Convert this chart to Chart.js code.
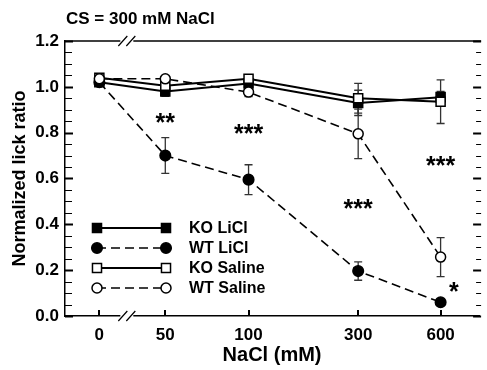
<!DOCTYPE html>
<html>
<head>
<meta charset="utf-8">
<script src="https://cdn.jsdelivr.net/npm/chart.js@4/dist/chart.umd.min.js"></script>
<style>
  html, body { margin: 0; padding: 0; background: #fff; }
  #wrap { width: 487px; height: 370px; }
</style>
</head>
<body>
<div id="wrap"><canvas id="c" width="487" height="370"></canvas></div>
<script>
// categories (NaCl, mM) and the uneven spacing the original axis uses
const concentrations = [ '0', '50', '100', '300', '600' ];
const xSlots         = [ 0, 0.8, 1.81, 3.14, 4.14 ];

// normalized lick ratio, mean and SEM
const koLiCl       = [ 1.02, 0.98, 1.015, 0.93, 0.955 ];
const koLiClErr    = [ 0.01, 0.022, 0.01, 0.055, 0.025 ];
const wtLiCl       = [ 1.02, 0.70, 0.595, 0.196, 0.06 ];
const wtLiClErr    = [ 0.01, 0.078, 0.065, 0.04, 0.01 ];
const koSaline     = [ 1.04, 1.005, 1.035, 0.95, 0.935 ];
const koSalineErr  = [ 0.01, 0.01, 0.01, 0.065, 0.095 ];
const wtSaline     = [ 1.035, 1.035, 0.977, 0.795, 0.257 ];
const wtSalineErr  = [ 0.01, 0.01, 0.02, 0.108, 0.085 ];

const yTicks = [ 0, 0.2, 0.4, 0.6, 0.8, 1.0, 1.2 ];

// significance marks (text, x slot, y value)
const starText = [ '**', '***', '***', '***', '*' ];
const starX    = [ 0.8, 1.81, 3.14, 4.14, 4.3 ];
const starY    = [ 0.86, 0.81, 0.485, 0.67, 0.12 ];

const FONT = 'Arial, "Liberation Sans", Helvetica, sans-serif';
const DASH = [ 9, 5 ];

function series( label, values, errors, pointStyle, filled, dashed, radius, width ) {
    return {
        label,
        data: values.map( ( v, i ) => ( { x: xSlots[ i ], y: v } ) ),
        errors,
        borderColor: '#000',
        borderWidth: width,
        borderDash: dashed ? DASH : [],
        pointStyle,
        pointRadius: radius,
        pointHoverRadius: radius,
        pointBackgroundColor: filled ? '#000' : '#fff',
        pointBorderColor: '#000',
        pointBorderWidth: 1.5,
        fill: false,
        tension: 0,
    };
}

const datasets = [
    series( 'WT Saline', wtSaline, wtSalineErr, 'circle', false, true, 5, 1.6 ),
    series( 'KO Saline', koSaline, koSalineErr, 'rect', false, false, 6.4, 2 ),
    series( 'WT LiCl',   wtLiCl,   wtLiClErr,   'circle', true,  true, 5.3, 1.6 ),
    series( 'KO LiCl',   koLiCl,   koLiClErr,   'rect', true,  false, 6.4, 2 ),
];

const legendOrder = [ 'KO LiCl', 'WT LiCl', 'KO Saline', 'WT Saline' ];

const errorBars = {
    id: 'errorBars',
    beforeDatasetsDraw( chart ) {
        const { ctx, scales: { x, y } } = chart;
        ctx.save();
        ctx.strokeStyle = '#333';
        ctx.lineWidth = 1.3;
        chart.data.datasets.forEach( ( ds ) => {
            ds.data.forEach( ( p, i ) => {
                const e = ds.errors[ i ];
                if ( ! e ) return;
                const px  = x.getPixelForValue( p.x );
                const top = y.getPixelForValue( p.y + e );
                const bot = y.getPixelForValue( p.y - e );
                ctx.beginPath();
                ctx.moveTo( px, top );     ctx.lineTo( px, bot );
                ctx.moveTo( px - 4, top ); ctx.lineTo( px + 4, top );
                ctx.moveTo( px - 4, bot ); ctx.lineTo( px + 4, bot );
                ctx.stroke();
            } );
        } );
        ctx.restore();
    },
};

const stars = {
    id: 'stars',
    afterDatasetsDraw( chart ) {
        const { ctx, scales: { x, y } } = chart;
        ctx.save();
        ctx.fillStyle = '#000';
        ctx.font = 'bold 25px ' + FONT;
        ctx.textAlign = 'center';
        ctx.textBaseline = 'middle';
        starText.forEach( ( t, i ) => {
            ctx.fillText( t, x.getPixelForValue( starX[ i ] ), y.getPixelForValue( starY[ i ] ) + 5 );
        } );
        ctx.restore();
    },
};

// frame: top line, inward ticks, axis breaks, heading, in-plot legend
const frame = {
    id: 'frame',
    afterDraw( chart ) {
        const { ctx, chartArea: a, scales: { x, y } } = chart;
        const brk = x.getPixelForValue( ( xSlots[ 0 ] + xSlots[ 1 ] ) / 2 ) - 12;
        ctx.save();
        ctx.strokeStyle = '#000';

        // top border
        ctx.lineWidth = 1.5;
        ctx.beginPath();
        ctx.moveTo( a.left, a.top ); ctx.lineTo( a.right + 2, a.top );
        ctx.stroke();

        // y ticks on both sides, minor every 0.05
        for ( let k = 0; k <= 24; k++ ) {
            const v = k * 0.05;
            const py = Math.round( y.getPixelForValue( v ) ) + 0.5;
            const major = k % 4 === 0;
            ctx.lineWidth = major ? 2 : 1.2;
            const len = major ? 8 : 7;
            ctx.beginPath();
            ctx.moveTo( a.left, py ); ctx.lineTo( a.left + len, py );
            ctx.moveTo( a.right + 2, py ); ctx.lineTo( a.right + 2 - ( major ? 8 : 5 ), py );
            ctx.stroke();
        }

        // x ticks pointing up
        ctx.lineWidth = 2;
        xSlots.forEach( ( s ) => {
            const px = Math.round( x.getPixelForValue( s ) );
            ctx.beginPath();
            ctx.moveTo( px, a.bottom ); ctx.lineTo( px, a.bottom - 6 );
            ctx.stroke();
        } );

        // axis breaks
        [ a.top, a.bottom ].forEach( ( ly ) => {
            ctx.fillStyle = '#fff';
            ctx.fillRect( brk, ly - 2, 13, 4 );
            ctx.lineWidth = 1.2;
            ctx.beginPath();
            ctx.moveTo( brk - 2, ly + 5 ); ctx.lineTo( brk + 7, ly - 5 );
            ctx.moveTo( brk + 6, ly + 5 ); ctx.lineTo( brk + 15, ly - 5 );
            ctx.stroke();
        } );

        // heading
        ctx.fillStyle = '#000';
        ctx.font = 'bold 17px ' + FONT;
        ctx.textAlign = 'left';
        ctx.textBaseline = 'middle';
        ctx.fillText( 'CS = 300 mM NaCl', a.left + 1, 19 );

        // legend
        const lx0 = a.left + 32, lx1 = a.left + 101, ty0 = 228;
        legendOrder.forEach( ( name, i ) => {
            const ds = chart.data.datasets.find( ( d ) => d.label === name );
            const ly = ty0 + i * 20;
            ctx.lineWidth = ds.borderWidth;
            ctx.setLineDash( ds.borderDash );
            ctx.strokeStyle = '#000';
            ctx.beginPath();
            ctx.moveTo( lx0, ly ); ctx.lineTo( lx1, ly );
            ctx.stroke();
            ctx.setLineDash( [] );
            [ lx0, lx1 ].forEach( ( px ) => {
                ctx.fillStyle = ds.pointBackgroundColor;
                ctx.strokeStyle = '#000';
                ctx.lineWidth = ds.pointBorderWidth;
                Chart.helpers.drawPoint( ctx, {
                    pointStyle: ds.pointStyle,
                    radius: ds.pointRadius,
                    rotation: 0,
                    borderWidth: ds.pointBorderWidth,
                }, px, ly );
            } );
            ctx.fillStyle = '#000';
            ctx.font = 'bold 16px ' + FONT;
            ctx.fillText( name, a.left + 124, ly + 1 );
        } );
        ctx.restore();
    },
};

new Chart( document.getElementById( 'c' ), {
    type: 'line',
    data: { datasets },
    plugins: [ errorBars, stars, frame ],
    options: {
        responsive: false,
        animation: false,
        devicePixelRatio: 1,
        layout: { padding: { top: 41, right: 0, left: 0, bottom: 0 } },
        plugins: { legend: { display: false }, tooltip: { enabled: false }, title: { display: false } },
        scales: {
            x: {
                type: 'linear',
                min: -0.4167,
                max: 4.607,
                afterFit: ( s ) => { s.height = 54; },
                afterBuildTicks: ( s ) => { s.ticks = xSlots.map( ( v ) => ( { value: v } ) ); },
                grid: { display: false, drawTicks: false },
                border: { display: true, color: '#000', width: 1.5 },
                ticks: {
                    autoSkip: false,
                    maxRotation: 0,
                    padding: 9,
                    color: '#000',
                    font: { family: FONT, size: 17, weight: 'bold' },
                    callback: ( v, i ) => concentrations[ i ],
                },
                title: {
                    display: true,
                    text: 'NaCl (mM)',
                    color: '#000',
                    font: { family: FONT, size: 20, weight: 'bold' },
                    padding: { top: 0, bottom: 3 },
                },
            },
            y: {
                min: 0,
                max: 1.2,
                afterFit: ( s ) => { s.width = 65; },
                afterBuildTicks: ( s ) => { s.ticks = yTicks.map( ( v ) => ( { value: v } ) ); },
                grid: { display: false, drawTicks: false },
                border: { display: true, color: '#000', width: 1.5 },
                ticks: {
                    padding: 6,
                    color: '#000',
                    font: { family: FONT, size: 17, weight: 'bold' },
                    callback: ( v ) => v.toFixed( 1 ),
                },
                title: {
                    display: true,
                    text: 'Normalized lick ratio',
                    color: '#000',
                    font: { family: FONT, size: 18, weight: 'bold' },
                    padding: { top: 9, bottom: 0 },
                },
            },
        },
    },
} );
</script>
</body>
</html>
